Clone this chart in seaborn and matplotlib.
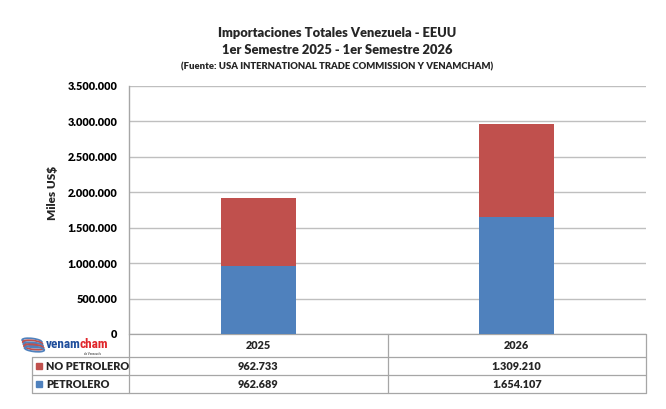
import matplotlib
matplotlib.use("Agg")
import matplotlib.pyplot as plt
import matplotlib.transforms as mtransforms
from matplotlib.ticker import FuncFormatter, MultipleLocator
import seaborn as sns
import pandas as pd

years = ["2025", "2026"]
no_petrolero = [962733, 1309210]
petrolero = [962689, 1654107]
series_names = ["NO PETROLERO", "PETROLERO"]
title_lines = ["Importaciones Totales Venezuela - EEUU",
               "1er Semestre 2025 - 1er Semestre 2026"]
subtitle = "(Fuente: USA INTERNATIONAL TRADE COMMISSION Y VENAMCHAM)"
ylabel = "Miles US$"

BLUE = "#4F81BD"
RED = "#C0504D"
GRID = "#BFBFBF"
TBL = "#A6A6A6"
WT = "heavy"

sns.set_theme(style="white")
plt.rcParams["font.family"] = ["Lato", "DejaVu Sans"]
plt.rcParams["font.weight"] = WT

def fmt(v):
    return f"{int(round(v)):,}".replace(",", ".")

df = pd.DataFrame({"year": years,
                   "petrolero": petrolero,
                   "total": [a + b for a, b in zip(no_petrolero, petrolero)]})

W, H = 666, 409
fig = plt.figure(figsize=(W / 100, H / 100), dpi=100)
ax = fig.add_axes([129 / W, 1 - 334 / H, (646 - 129) / W, (334 - 86) / H])

sns.barplot(data=df, x="year", y="total", color=RED, width=0.29,
            saturation=1, ax=ax, zorder=3, linewidth=0, edgecolor="none")
sns.barplot(data=df, x="year", y="petrolero", color=BLUE, width=0.29,
            saturation=1, ax=ax, zorder=3, linewidth=0, edgecolor="none")

ax.set_xlim(-0.5, 1.5)
ax.set_ylim(0, 3500000)
ax.yaxis.set_major_locator(MultipleLocator(500000))
ax.yaxis.set_major_formatter(FuncFormatter(lambda v, p: fmt(v)))
ax.tick_params(axis="y", length=0, pad=8.5, labelsize=7.8, colors="black")
for t in ax.get_yticklabels():
    t.set_fontweight(WT)
ax.set_xticks([])
ax.set_xlabel("")
ax.set_ylabel("")
ax.grid(axis="y", color=GRID, linewidth=1, zorder=0)
for s in ["top", "right", "bottom"]:
    ax.spines[s].set_visible(False)
ax.spines["left"].set_color(TBL)
ax.spines["left"].set_linewidth(1)

fig.text(52 / W, 1 - 193 / H, ylabel, rotation=90, ha="center", va="center",
         fontsize=8.5, fontweight=WT)

# Titles
fig.text(337 / W, 1 - 33 / H, title_lines[0], ha="center", va="center",
         fontsize=9.3, fontweight=WT)
fig.text(337 / W, 1 - 50 / H, title_lines[1], ha="center", va="center",
         fontsize=9.3, fontweight=WT)
fig.text(337 / W, 1 - 67 / H, subtitle, ha="center", va="center",
         fontsize=6.8, fontweight=WT)

# Data table
trans = mtransforms.blended_transform_factory(ax.transData, fig.transFigure)
ftr = fig.transFigure
rows_y = [334, 357, 375, 393]
yf = [1 - r / H for r in rows_y]
lw = 0.9
for y in yf:
    ax.plot([-0.5, 1.5], [y, y], transform=trans, color=TBL, lw=lw,
            clip_on=False)
for xv in [-0.5, 0.5, 1.5]:
    ax.plot([xv, xv], [yf[0], yf[3]], transform=trans, color=TBL, lw=lw,
            clip_on=False)
for y in yf[1:]:
    fig.add_artist(plt.Line2D([32 / W, 129 / W], [y, y], transform=ftr,
                              color=TBL, lw=lw))
fig.add_artist(plt.Line2D([32 / W, 32 / W], [yf[1], yf[3]], transform=ftr,
                          color=TBL, lw=lw))

for i, yr in enumerate(years):
    ax.text(i, (yf[0] + yf[1]) / 2, yr, transform=trans, ha="center",
            va="center", fontsize=7.8, fontweight=WT)
series_vals = [no_petrolero, petrolero]
series_cols = [RED, BLUE]
for r, (name, vals, col) in enumerate(zip(series_names, series_vals,
                                          series_cols)):
    yc = (yf[r + 1] + yf[r + 2]) / 2
    for i, v in enumerate(vals):
        ax.text(i, yc, fmt(v), transform=trans, ha="center", va="center",
                fontsize=7.8, fontweight=WT)
    fig.add_artist(plt.Rectangle((36 / W, yc - 3 / H), 6 / W, 6 / H,
                                 transform=ftr, color=col))
    fig.text(46 / W, yc, name, ha="left", va="center", fontsize=7.8,
             fontweight=WT)

# Logo approximation
lx, ly = 22, 345
for k, c in enumerate([BLUE, RED, BLUE, RED, BLUE]):
    fig.add_artist(matplotlib.patches.Ellipse(((lx + 10 + k * 0.6) / W,
                                               1 - (ly - 4 + k * 2) / H),
                                              20 / W, 5 / H, angle=-12,
                                              transform=ftr, fill=False,
                                              edgecolor=c, lw=1.3))
logo_family = ["Liberation Sans Narrow", "Roboto Condensed", "DejaVu Sans"]
t1 = fig.text(46 / W, 1 - ly / H, "venam", ha="left", va="center",
              fontsize=9.5, fontweight="bold", color="#1F4E9C",
              family=logo_family)
fig.canvas.draw()
bb = t1.get_window_extent(fig.canvas.get_renderer())
fig.text((bb.x1 - 1.5) / W, 1 - ly / H, "cham", ha="left", va="center",
         fontsize=9.5, fontweight="bold", color="#E0262B", family=logo_family)
fig.text(92 / W, 1 - 354 / H, "de Venezuela", ha="center", va="center",
         fontsize=2, color="#666666")

fig.savefig("out.png", dpi=100, facecolor="white")
